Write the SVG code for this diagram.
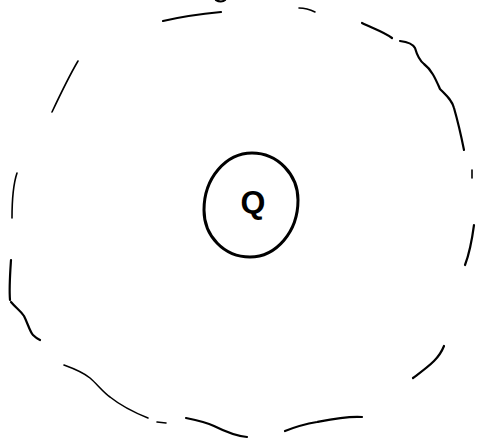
<svg xmlns="http://www.w3.org/2000/svg" width="479" height="443" viewBox="0 0 479 443">
<style>
.s{fill:none;stroke:#000;stroke-linecap:round;stroke-linejoin:round}
.t{stroke-width:2.2}
.n{stroke-width:1.6}
.label{font-family:"Liberation Sans",Arial,sans-serif;font-weight:bold;font-size:32px;fill:#000}
</style>
<rect width="479" height="443" fill="#fff"/>
<g id="outer">
<path class="s t" d="M163,21 C180,17 200,14 221,12"/>
<path class="s t" d="M216,0 C219,2 223,2 225,0"/>
<path class="s n" d="M299,8 C305,8 311,10 315,12"/>
<path class="s t" d="M362,23 C372,28 384,32 392,38"/>
<path class="s t" d="M400,41 C408,42 413,44 415,48 C417,55 419,60 424,64 C432,70 436,80 440,89 C446,95 452,100 454,108 C458,122 461,135 464,150"/>
<path class="s n" d="M78,61 C68,78 60,95 52,112"/>
<path class="s n" d="M17,173 C13,185 12,200 12,218"/>
<path class="s n" d="M472,170 L472,178"/>
<path class="s t" d="M474,225 C472,240 470,252 465,265"/>
<path class="s t" d="M11,260 C10,275 9,288 10,300"/>
<path class="s t" d="M11,302 C16,308 20,310 24,316 C28,324 30,332 33,335 C36,338 38,339 40,340"/>
<path class="s n" d="M64,365 C75,369 84,373 90,378 C97,384 103,392 110,397 C120,405 133,412 148,418"/>
<path class="s n" d="M157,422 L166,423"/>
<path class="s t" d="M186,418 C196,420 206,422 214,426 C224,431 236,436 247,437"/>
<path class="s t" d="M285,431 C295,427 305,424 317,422 C332,419 346,416 362,417"/>
<path class="s t" d="M413,378 C421,372 428,367 434,361 C439,356 442,351 444,346"/>
</g>
<g id="inner">
<path class="s" stroke-width="3" d="M252,153 C278,153 298,175 298,200 C298,232 276,257 250,257 C224,257 204,236 204,210 C204,178 226,153 252,153 Z"/>
<text class="label" x="253" y="213" text-anchor="middle">Q</text>
</g>
</svg>
